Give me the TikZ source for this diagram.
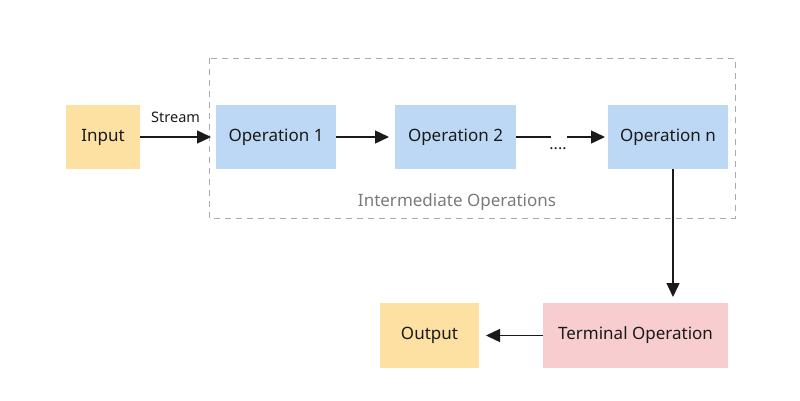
\documentclass[tikz,border=0pt]{standalone}
\usepackage{fontspec}
\setmainfont{Noto Sans}
\usetikzlibrary{arrows.meta}
\definecolor{orangebox}{HTML}{FCE1A3}
\definecolor{bluebox}{HTML}{BDD8F4}
\definecolor{pinkbox}{HTML}{F8CDCF}
\definecolor{dashgray}{HTML}{AAAAAA}
\definecolor{labelgray}{HTML}{7A7A7A}
\definecolor{ink}{HTML}{1A1A1A}
\begin{document}
\begin{tikzpicture}[x=1pt,y=-1pt,
  box/.style={draw=none,minimum height=64pt,inner sep=0pt,font=\fontsize{17}{20}\selectfont,text=ink},
  inbox/.style={box,fill=orangebox},
  opbox/.style={box,fill=bluebox,minimum width=120pt},
  termbox/.style={box,fill=pinkbox},
  conn/.style={draw=ink,line width=1.4pt,-{Triangle[length=14pt,width=13pt]}},
  plainline/.style={draw=ink,line width=1.4pt}]
\useasboundingbox (0,0) rectangle (800,400);
\draw[dashgray,line width=0.9pt,dash pattern=on 6pt off 5pt] (209,58) rectangle (735,218);
\node[inbox,minimum width=74pt] (in) at (103,137) {Input};
\node[opbox] (op1) at (276,137) {Operation 1};
\node[opbox,minimum width=121pt] (op2) at (455.5,137) {Operation 2};
\node[opbox] (opn) at (668,137) {Operation n};
\node[termbox,minimum width=185pt,minimum height=65pt] (term) at (635.5,335.5) {Terminal Operation};
\node[inbox,minimum width=99pt,minimum height=65pt] (out) at (429.5,335.5) {Output};
\node[font=\fontsize{17}{20}\selectfont,text=labelgray] (lbl) at (457,202) {Intermediate Operations};
\coordinate (s1) at (211,137);
\draw[conn] (in.east) -- node[above=10pt,font=\fontsize{14.5}{17}\selectfont,text=ink] {Stream} (s1);
\coordinate (a2) at (389,137);
\draw[conn] (op1.east) -- (a2);
\coordinate (d1) at (551,137);
\coordinate (d2) at (567,137);
\coordinate (a3) at (605,137);
\draw[plainline] (op2.east) -- (d1);
\node[font=\fontsize{16}{18}\selectfont,text=ink,inner sep=0pt] (dots) at (558,149) {....};
\draw[conn] (d2) -- (a3);
\coordinate (a4) at (673,297);
\draw[conn] (opn.south -| a4) -- (a4);
\coordinate (a5) at (486,335.5);
\draw[conn] (term.west) -- (a5);
\end{tikzpicture}
\end{document}
